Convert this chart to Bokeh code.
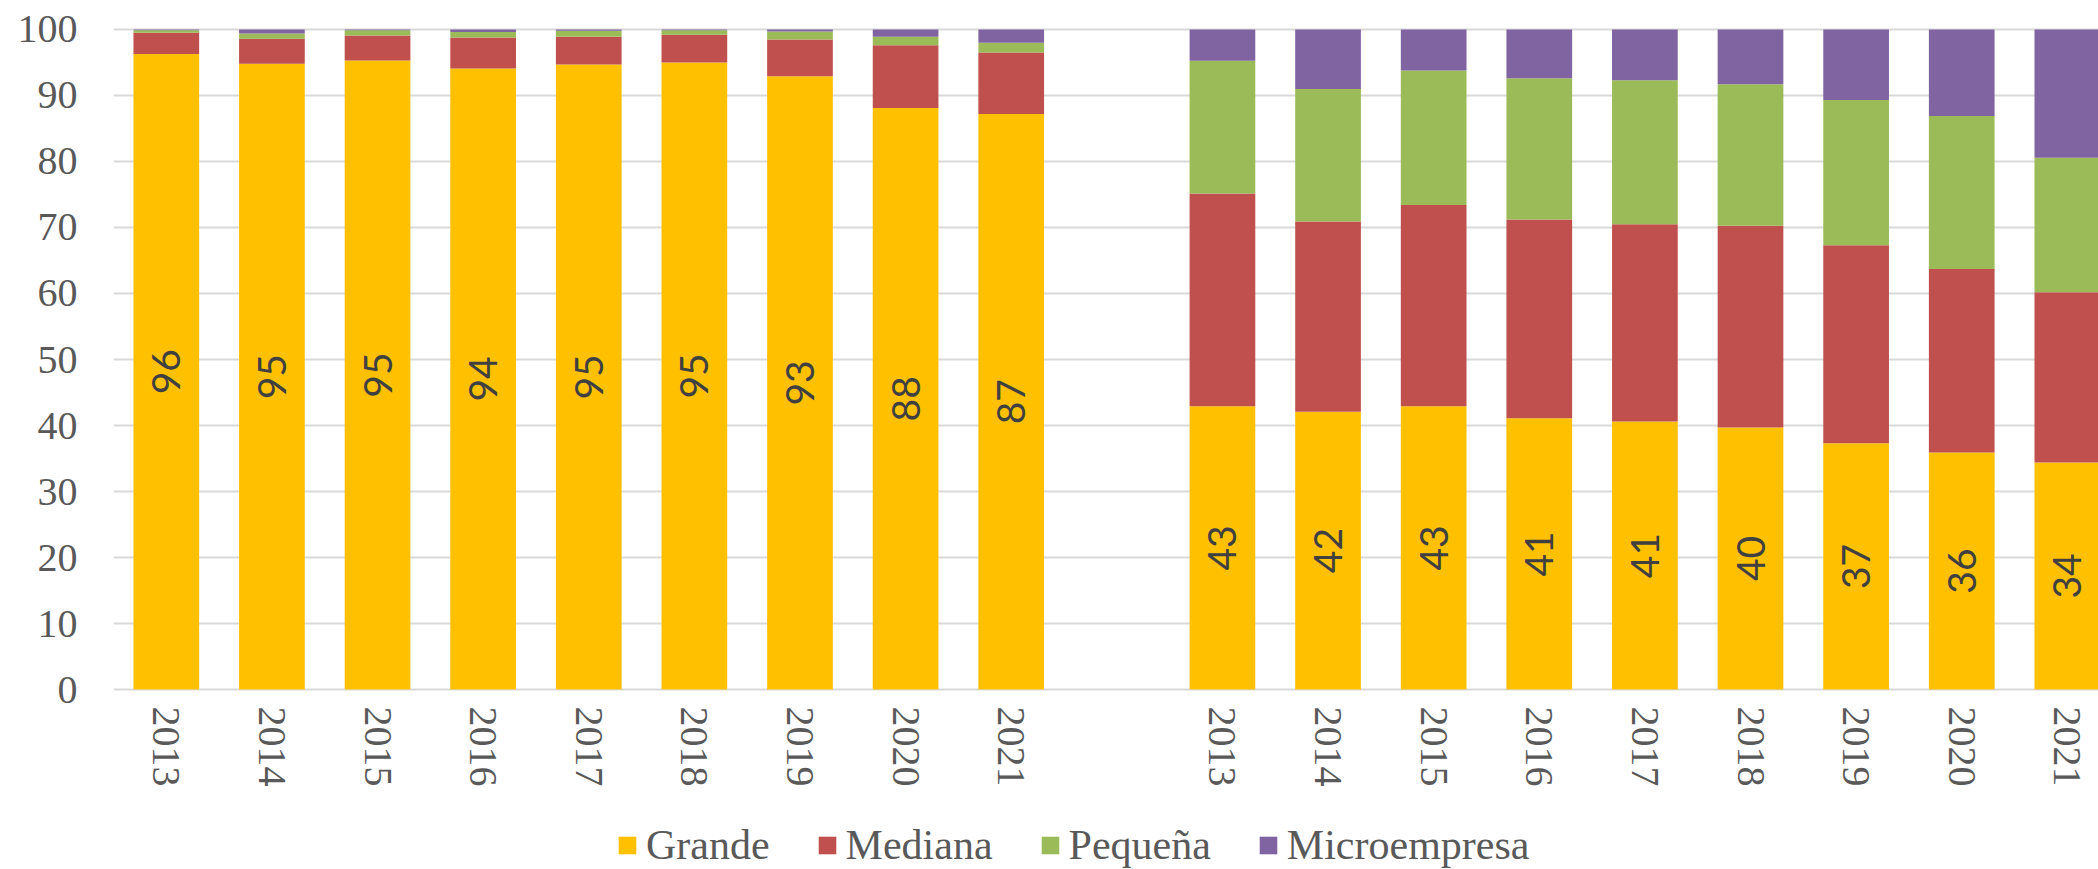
import math
from bokeh.plotting import figure
from bokeh.layouts import column
from bokeh.models import ColumnDataSource, FixedTicker, Range1d, Legend, LegendItem
from bokeh.core.properties import value
from bokeh.embed import file_html
from bokeh.resources import INLINE

# ---- data ----
years = ["2013", "2014", "2015", "2016", "2017", "2018", "2019", "2020", "2021"]
series = ["Grande", "Mediana", "Pequeña", "Microempresa"]
colors = ["#FFC000", "#C0504D", "#9BBB59", "#8064A2"]

# left panel
left_grande = [96.3, 94.8, 95.3, 94.1, 94.7, 95.0, 92.9, 88.1, 87.2]
left_mediana = [3.2, 3.8, 3.8, 4.7, 4.2, 4.2, 5.6, 9.5, 9.3]
left_pequena = [0.4, 0.8, 0.8, 0.8, 0.9, 0.7, 1.2, 1.3, 1.5]
left_micro = [0.1, 0.6, 0.1, 0.4, 0.2, 0.1, 0.3, 1.1, 2.0]

# right panel
right_grande = [42.9, 42.1, 42.9, 41.1, 40.6, 39.7, 37.3, 35.9, 34.4]
right_mediana = [32.25, 28.8, 30.5, 30.1, 29.9, 30.55, 30.0, 27.8, 25.8]
right_pequena = [20.1, 20.1, 20.4, 21.4, 21.8, 21.45, 22.0, 23.2, 20.35]
right_micro = [4.75, 9.0, 6.2, 7.4, 7.7, 8.3, 10.7, 13.1, 19.45]

y_ticks = list(range(0, 101, 10))

# ---- layout of categories (left group, one empty slot, right group) ----
n = len(years)
xpos = list(range(n)) + [n + 1 + i for i in range(n)]
labels_year = years + years

data = dict(
    x=xpos,
    Grande=left_grande + right_grande,
    Mediana=left_mediana + right_mediana,
    Pequeña=left_pequena + right_pequena,
    Microempresa=left_micro + right_micro,
)
source = ColumnDataSource(data)

p = figure(
    width=2098, height=800,
    output_backend="svg", toolbar_location=None,
    x_range=Range1d(-0.5, 18.295), y_range=Range1d(-0.3, 100.3),
    min_border_left=113, min_border_right=0, min_border_top=27, min_border_bottom=109,
)
p.outline_line_color = None
p.background_fill_color = "white"

renderers = p.vbar_stack(series, x="x", width=0.622, source=source,
                         color=colors, line_color=None)

# value labels for Grande
g = data["Grande"]
lab_src = ColumnDataSource(dict(
    x=xpos, y=[v / 2 for v in g], t=["%.0f" % v for v in g]))
p.text(x="x", y="y", text="t", source=lab_src, angle=math.pi / 2,
       text_align="center", text_baseline="middle",
       text_font=value("Lato"), text_font_size="39px", text_color="#404040")

# axes
p.xaxis.ticker = FixedTicker(ticks=xpos)
p.xaxis.major_label_overrides = {x: l for x, l in zip(xpos, labels_year)}
p.xaxis.major_label_orientation = "vertical"
p.yaxis.ticker = FixedTicker(ticks=y_ticks)
for ax in (p.xaxis[0], p.yaxis[0]):
    ax.axis_line_color = None
    ax.major_tick_line_color = None
    ax.minor_tick_line_color = None
    ax.major_tick_out = 0
    ax.major_tick_in = 0
    ax.major_label_text_font = "Liberation Serif"
    ax.major_label_text_font_size = "40px"
    ax.major_label_text_color = "#595959"
p.xaxis.major_label_standoff = 15
p.yaxis.major_label_standoff = 36

p.xgrid.grid_line_color = None
p.ygrid.grid_line_color = "#D9D9D9"
p.ygrid.grid_line_width = 2

# ---- legend strip below the chart ----
lf = figure(
    width=2098, height=69, output_backend="svg", toolbar_location=None,
    x_axis_type=None, y_axis_type=None,
    x_range=Range1d(0, 1), y_range=Range1d(0, 1),
    min_border_left=0, min_border_right=0, min_border_top=0, min_border_bottom=0,
)
lf.outline_line_color = None
lf.xgrid.grid_line_color = None
lf.ygrid.grid_line_color = None
items = []
for s, c in zip(series, colors):
    # swatch-only renderer: its single bar lies outside the visible range
    r = lf.vbar(x=[5], top=[0], bottom=[0], width=0.1, color=c, line_color=None)
    items.append(LegendItem(label=s, renderers=[r]))

legend = Legend(
    items=items,
    orientation="horizontal", location=(503, 0),
    glyph_width=22, glyph_height=22, label_standoff=8, spacing=46,
    label_text_font="Liberation Serif", label_text_font_size="42px",
    label_text_color="#595959", border_line_color=None,
    background_fill_alpha=0, margin=0, padding=0,
)
lf.add_layout(legend, "center")

layout = column(p, lf, spacing=0)
open("out.html", "w").write(file_html(layout, INLINE))
